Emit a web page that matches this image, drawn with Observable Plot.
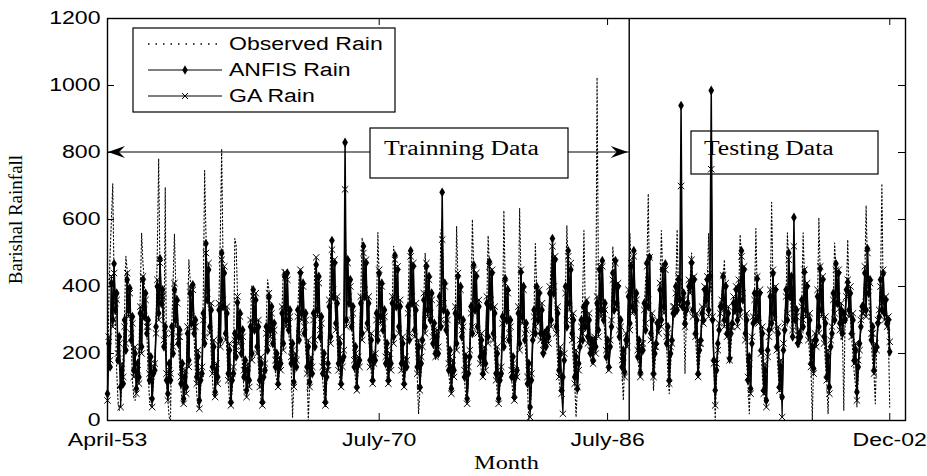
<!DOCTYPE html>
<html>
<head>
<meta charset="utf-8">
<script src="https://cdn.jsdelivr.net/npm/d3@7"></script>
<script src="https://cdn.jsdelivr.net/npm/@observablehq/plot@0.6"></script>
<style>
  html, body { margin: 0; padding: 0; background: #fff; }
  #chart { width: 927px; height: 476px; }
</style>
</head>
<body>
<div id="chart"></div>
<script>
// ---- Data: monthly rainfall, index 0 = April-53 ... 596 = Dec-02 ----
const anfisRain = [
  80,230,160,410,300,468,330,380,180,250,100,150,
  110,300,210,420,330,395,240,310,150,200,95,170,
  130,320,220,420,310,380,260,300,120,190,65,140,
  150,280,400,320,483,350,390,220,280,120,80,170,
  120,280,200,390,300,360,230,270,110,170,65,130,
  100,260,180,380,290,405,260,300,130,190,60,120,
  140,320,230,528,360,450,280,330,160,220,85,150,
  130,330,240,500,340,440,260,320,140,210,55,120,
  140,260,190,352,250,320,200,270,130,180,90,150,
  120,280,200,390,270,360,220,280,120,170,55,130,
  150,280,210,368,270,340,230,290,160,200,110,170,
  170,320,230,430,300,440,270,330,170,230,115,180,
  160,330,240,440,320,410,260,320,160,220,115,170,
  140,320,220,465,330,430,250,310,140,200,55,130,
  170,340,250,537,370,470,290,350,170,230,110,180,
  190,830,300,480,350,420,280,340,160,220,100,170,
  180,350,260,520,370,470,290,350,180,240,120,190,
  180,320,240,438,310,410,270,330,170,230,120,180,
  170,350,250,493,340,450,280,340,170,230,110,170,
  160,340,240,507,350,460,270,330,160,220,100,170,
  240,360,280,460,330,430,300,380,230,290,200,250,
  200,370,280,681,330,410,270,320,150,210,95,160,
  150,320,230,430,310,400,250,300,130,190,65,140,
  190,340,260,464,330,430,280,340,190,240,140,200,
  170,350,250,474,340,440,260,320,140,200,65,120,
  140,310,220,423,300,390,240,300,130,190,70,130,
  150,320,230,443,310,400,240,290,110,170,40,120,
  240,330,260,400,300,380,260,330,200,260,220,270,
  250,380,300,543,380,480,280,320,150,200,90,130,
  180,400,280,507,350,450,260,300,130,190,95,170,
  220,300,240,340,280,350,250,300,200,240,180,230,
  220,350,270,450,330,477,300,350,190,240,160,220,
  280,440,330,477,350,400,250,300,160,210,145,240,
  240,370,290,460,340,507,330,380,190,240,143,210,
  210,350,270,470,340,487,260,300,140,200,230,290,
  280,390,300,450,340,467,230,280,120,200,240,320,
  320,400,330,420,360,940,340,380,290,330,350,400,
  400,470,330,420,260,300,140,210,240,320,300,390,
  360,420,330,430,985,300,180,90,150,230,270,340,
  340,430,300,400,260,320,185,260,290,350,330,390,
  300,400,330,507,360,450,260,300,120,190,95,230,
  290,380,300,423,310,380,210,260,90,150,60,210,
  270,370,290,438,320,390,220,260,100,160,70,210,
  270,390,300,500,370,430,250,606,300,330,230,260,
  250,360,280,443,330,400,260,300,170,220,155,240,
  240,370,280,453,330,420,250,290,130,190,100,220,
  260,380,300,468,350,440,290,330,260,320,300,390,
  413,330,380,260,300,180,210,85,160,230,280,340,
  340,440,330,513,380,420,240,280,150,210,220,290,
  310,420,330,438,320,360,290,300,205
];

const gaRain = [
  60,250,180,430,280,440,350,360,200,230,40,170,
  130,280,230,440,310,380,260,290,130,220,80,150,
  110,340,200,430,330,360,280,280,140,170,40,160,
  170,260,420,300,470,370,370,240,260,140,60,150,
  140,260,220,410,280,350,250,250,130,150,50,150,
  80,280,160,400,310,390,280,280,110,210,35,140,
  160,300,250,500,380,470,260,350,140,240,70,170,
  110,350,220,480,360,460,240,340,120,230,45,140,
  160,240,210,370,230,310,220,250,150,160,70,170,
  100,300,180,370,290,380,200,300,100,190,45,150,
  170,260,230,380,250,320,250,270,180,180,100,190,
  150,340,210,443,280,420,290,310,190,210,100,200,
  180,310,260,450,300,400,280,300,140,240,100,190,
  160,300,240,487,310,410,270,290,160,180,45,150,
  150,360,230,510,390,480,270,370,150,250,100,160,
  210,690,280,470,370,400,300,320,180,200,90,190,
  160,370,240,500,390,480,270,370,160,260,110,170,
  200,300,260,450,290,400,290,310,190,210,110,200,
  150,370,230,480,360,460,260,360,150,250,100,190,
  180,320,260,490,370,470,250,350,140,240,90,190,
  220,380,260,470,310,420,320,360,250,270,190,270,
  220,350,300,540,350,400,290,300,170,190,80,180,
  130,340,210,440,290,390,270,280,150,170,50,160,
  210,320,280,450,350,440,260,360,170,260,130,220,
  150,370,230,460,360,450,240,340,120,220,50,140,
  160,290,240,410,320,380,260,280,150,170,60,150,
  130,340,210,450,290,390,260,270,130,150,10,140,
  260,310,280,390,320,390,240,350,210,240,230,250,
  230,400,280,520,400,490,260,340,130,220,80,20,
  200,380,300,490,330,470,240,320,110,210,100,150,
  240,280,260,330,300,360,230,320,210,220,170,250,
  200,370,250,460,310,460,320,330,210,220,150,240,
  300,420,350,470,330,410,270,280,180,190,130,260,
  220,390,270,470,320,490,350,360,210,220,130,230,
  230,330,290,460,360,487,240,320,130,220,220,300,
  260,410,280,460,320,450,250,260,110,220,230,340,
  340,380,350,430,340,700,360,360,280,350,330,420,
  380,480,310,430,250,320,130,230,230,340,290,400,
  340,430,310,440,750,310,170,45,170,210,290,320,
  360,433,280,410,250,340,180,280,280,370,320,400,
  280,420,310,490,380,460,240,320,130,170,80,250,
  310,360,320,430,290,390,200,280,80,170,40,190,
  250,390,270,450,300,400,210,280,90,180,10,230,
  290,370,320,480,390,420,270,520,310,310,240,240,
  270,340,300,450,310,410,240,320,160,240,140,260,
  220,390,260,460,310,430,230,310,120,210,80,240,
  280,360,320,450,370,450,270,350,270,300,320,370,
  420,310,400,250,320,170,230,60,180,210,300,320,
  320,460,310,500,400,410,260,260,140,230,210,300,
  330,400,350,450,300,370,280,310,235
];

const observedRain = [
  100,350,500,600,707,420,300,150,60,30,50,120,
  200,320,490,450,400,330,250,120,70,60,80,150,
  220,380,560,470,420,300,260,140,60,40,70,110,
  150,300,520,782,430,380,320,220,696,120,60,10,
  0,280,420,557,400,310,230,160,90,50,70,120,
  160,300,480,420,390,340,250,140,80,40,60,90,
  180,380,746,560,430,360,300,200,120,70,80,130,
  200,380,560,811,480,400,280,200,110,60,40,90,
  160,543,525,380,330,300,220,150,90,80,70,120,
  180,300,403,380,350,290,240,160,100,60,50,110,
  200,300,420,390,350,300,260,190,140,120,100,150,
  200,340,450,420,410,330,280,200,150,10,120,160,
  220,330,430,410,390,340,270,210,160,0,110,140,
  190,320,470,450,420,350,260,180,120,70,40,110,
  200,350,500,480,440,380,300,230,160,120,100,160,
  230,560,460,450,420,370,300,220,160,120,90,150,
  220,380,546,480,440,380,320,250,190,140,110,160,
  210,340,561,420,400,340,280,220,170,130,110,160,
  210,360,520,470,430,370,300,240,170,120,100,150,
  200,350,510,480,440,360,280,200,130,20,90,150,
  260,360,500,440,420,370,320,270,230,200,180,230,
  230,360,560,600,420,350,280,200,140,100,80,140,
  200,330,580,420,390,320,260,180,120,70,60,120,
  220,340,600,450,420,360,290,230,180,140,130,180,
  210,350,552,460,430,350,280,190,130,80,60,100,
  180,300,627,410,380,320,250,180,120,70,60,110,
  190,320,633,430,390,320,250,170,100,0,30,90,
  230,320,528,390,370,320,270,220,190,200,210,250,
  270,380,470,520,460,350,250,170,120,90,80,50,
  210,400,582,450,370,290,230,170,110,10,100,160,
  230,300,360,567,340,300,260,220,190,170,180,220,
  240,1024,420,440,460,390,320,250,190,150,170,210,
  310,520,450,420,370,310,240,190,150,60,160,230,
  270,360,560,450,490,430,340,260,190,150,130,190,
  230,340,420,460,677,380,280,200,90,160,220,280,
  310,380,567,440,450,340,220,140,80,160,230,310,
  340,390,570,390,420,420,370,320,140,300,330,390,
  430,500,390,320,250,180,130,170,230,290,340,400,
  390,410,558,380,420,290,170,0,120,190,270,340,
  370,420,480,370,290,230,170,220,280,320,350,390,
  330,390,555,490,440,350,250,170,110,20,140,230,
  310,370,573,390,340,270,200,130,80,50,110,210,
  290,360,651,420,370,290,210,140,90,60,120,210,
  290,370,560,480,410,320,240,450,290,250,220,220,
  270,340,560,430,390,320,250,190,160,0,180,240,
  270,350,606,440,410,330,240,170,120,20,140,220,
  280,360,530,450,430,350,280,240,250,30,330,390,
  540,370,310,250,190,140,100,40,130,200,270,340,
  370,430,642,460,370,290,230,170,140,50,210,280,
  330,410,707,370,320,290,280,250,40
];

const xTickMonths = [0, 207, 381, 596];
const xTickLabels = ["April-53", "July-70", "July-86", "Dec-02"];
const yTicks = [0, 200, 400, 600, 800, 1000, 1200];
const splitMonth = [397.5];
const arrowLevel = 800;
const seriesNames = ["Observed Rain", "ANFIS Rain", "GA Rain"];
const annotationLabels = ["Trainning Data", "Testing Data"];
const xTitle = "Month";
const yTitle = "Barishal Rainfall";

// ---- Tables ----
const toRows = arr => arr.map((v, i) => ({month: i, rain: v}));
const obsRows = toRows(observedRain);
const anfisRows = toRows(anfisRain);
const gaRows = toRows(gaRain);

const SANS = "'Liberation Sans', Arial, Helvetica, sans-serif";
const SERIF = "'Liberation Serif', 'Times New Roman', serif";

const plot = Plot.plot({
  width: 927,
  height: 476,
  marginLeft: 107,
  marginRight: 22,
  marginTop: 18,
  marginBottom: 56,
  x: {domain: [0, 608]},
  y: {domain: [0, 1200]},
  style: {fontFamily: SANS, fontSize: "18px", background: "white", color: "black", overflow: "visible"},
  marks: [
    Plot.line(obsRows, {x: "month", y: "rain", stroke: "black", strokeWidth: 1.1, strokeDasharray: "1.3,2.4"}),
    Plot.line(gaRows, {x: "month", y: "rain", stroke: "black", strokeWidth: 1.2}),
    Plot.dot(gaRows, {x: "month", y: "rain", symbol: "times", r: 3, stroke: "black", strokeWidth: 1}),
    Plot.line(anfisRows, {x: "month", y: "rain", stroke: "black", strokeWidth: 1.5}),
    Plot.dot(anfisRows, {x: "month", y: "rain", symbol: "diamond", r: 3, fill: "black", stroke: "none"}),
    Plot.ruleX(splitMonth, {x: d => d, stroke: "black", strokeWidth: 1.4}),
    Plot.frame({stroke: "black", strokeWidth: 1.4}),
    Plot.tickX(xTickMonths, {x: d => d, insetTop: 395, stroke: "black"}),
    Plot.tickX(xTickMonths, {x: d => d, insetBottom: 395, stroke: "black"}),
    Plot.tickY(yTicks, {y: d => d, insetRight: 791, stroke: "black"}),
    Plot.tickY(yTicks, {y: d => d, insetLeft: 791, stroke: "black"}),
    Plot.axisX(xTickMonths, {tickSize: 0, tickPadding: 13, label: null,
      tickFormat: d => xTickLabels[xTickMonths.indexOf(d)], fontSize: 18}),
    Plot.axisY(yTicks, {tickSize: 0, tickPadding: 7, label: null, tickFormat: d => String(d), fontSize: 18}),
    Plot.text([xTitle], {frameAnchor: "bottom", dy: 48, fontFamily: SERIF, fontSize: 19, text: d => d}),
    Plot.text([yTitle], {frameAnchor: "left", dx: -92, rotate: -90, textAnchor: "middle",
      fontFamily: SERIF, fontSize: 19, text: d => d})
  ]
});

document.getElementById("chart").appendChild(plot);

// ---- Legend and annotations (drawn with the plot's scales) ----
const sx = plot.scale("x"), sy = plot.scale("y");
const svg = d3.select(plot);
const g = svg.append("g").attr("class", "annotations").attr("text-anchor", "start");

const ay = sy.apply(arrowLevel);
const xLeft = sx.apply(0);
const xSplit = sx.apply(splitMonth[0]);

// Training box + arrows
const tBox = {x: 370, y: 128, w: 198, h: 50};
g.append("rect").attr("x", tBox.x).attr("y", tBox.y).attr("width", tBox.w).attr("height", tBox.h)
  .attr("fill", "none").attr("stroke", "black").attr("stroke-width", 1.2);
g.append("text").attr("text-anchor", "start").attr("x", tBox.x + 14).attr("y", tBox.y + 20)
  .attr("dy", "0.35em").attr("font-family", SERIF).attr("font-size", 20).text(annotationLabels[0]);
g.append("line").attr("x1", xLeft).attr("x2", tBox.x).attr("y1", ay).attr("y2", ay)
  .attr("stroke", "black").attr("stroke-width", 1.2);
g.append("line").attr("x1", tBox.x + tBox.w).attr("x2", xSplit).attr("y1", ay).attr("y2", ay)
  .attr("stroke", "black").attr("stroke-width", 1.2);
const head = (tipX, dir) =>
  `M${tipX},${ay} L${tipX + dir * 17},${ay - 6} L${tipX + dir * 11},${ay} L${tipX + dir * 17},${ay + 6} Z`;
g.append("path").attr("d", head(xLeft + 1, 1)).attr("fill", "black");
g.append("path").attr("d", head(xSplit - 1, -1)).attr("fill", "black");

// Testing box
const sBox = {x: 691, y: 131, w: 187, h: 43};
g.append("rect").attr("x", sBox.x).attr("y", sBox.y).attr("width", sBox.w).attr("height", sBox.h)
  .attr("fill", "none").attr("stroke", "black").attr("stroke-width", 1.2);
g.append("text").attr("text-anchor", "start").attr("x", sBox.x + 13).attr("y", sBox.y + 17)
  .attr("dy", "0.35em").attr("font-family", SERIF).attr("font-size", 20).text(annotationLabels[1]);

// Legend
const lg = g.append("g");
lg.append("rect").attr("x", 133).attr("y", 28).attr("width", 262).attr("height", 84)
  .attr("fill", "white").attr("stroke", "black").attr("stroke-width", 1.2);
const rowsY = [44, 70, 96];
seriesNames.forEach((name, i) => {
  const yy = rowsY[i];
  lg.append("line").attr("x1", 148).attr("x2", 222).attr("y1", yy).attr("y2", yy)
    .attr("stroke", "black").attr("stroke-width", i === 0 ? 1.3 : 1.2)
    .attr("stroke-dasharray", i === 0 ? "1.5,6" : null);
  if (i === 1) {
    lg.append("path").attr("d", d3.symbol(d3.symbolDiamond, 26)()).attr("transform", `translate(185,${yy})`).attr("fill", "black");
  }
  if (i === 2) {
    lg.append("path").attr("d", "M-3,-3L3,3M-3,3L3,-3").attr("transform", `translate(185,${yy})`)
      .attr("stroke", "black").attr("fill", "none");
  }
  lg.append("text").attr("text-anchor", "start").attr("x", 229).attr("y", yy).attr("dy", "0.36em")
    .attr("font-family", SANS).attr("font-size", 18).text(name);
});

// Horizontal stretch of texts, as in the reference image
svg.selectAll("text").each(function () {
  if (this.textContent === yTitle) return;
  const len = this.getComputedTextLength();
  if (len > 0) {
    this.setAttribute("textLength", (len * 1.28).toFixed(1));
    this.setAttribute("lengthAdjust", "spacingAndGlyphs");
  }
});
</script>
</body>
</html>
